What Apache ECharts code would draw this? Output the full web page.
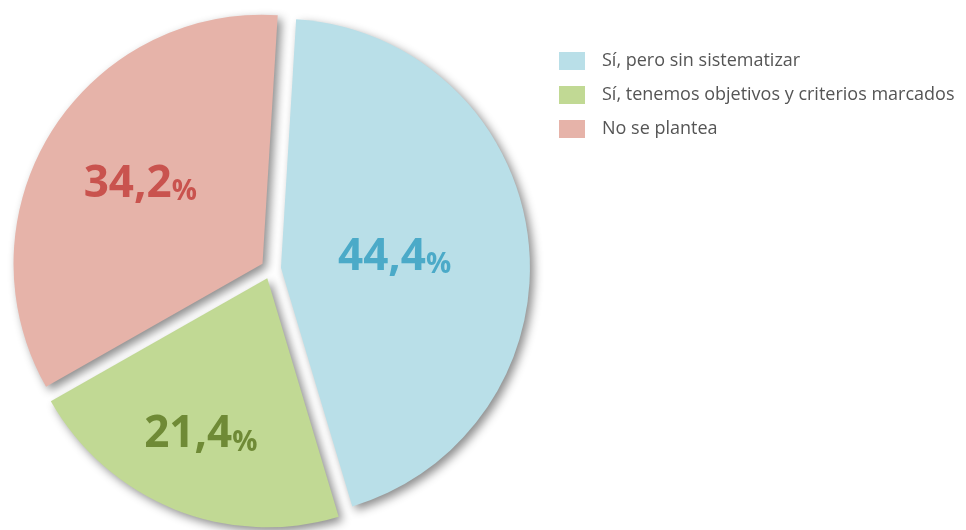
<!DOCTYPE html>
<html>
<head>
<meta charset="utf-8">
<script src="https://cdn.jsdelivr.net/npm/echarts@6/dist/echarts.min.js"></script>
<style>
html,body{margin:0;padding:0;background:#fff;}
#chart{width:966px;height:530px;}
</style>
</head>
<body>
<div id="chart"></div>
<script>
// datos
var categorias = ['Sí, pero sin sistematizar', 'Sí, tenemos objetivos y criterios marcados', 'No se plantea'];
var valores = [44.4, 21.4, 34.2];
var colores = ['#B9DFE8', '#C1D994', '#E6B3A9'];
var coloresTexto = ['#4BAAC8', '#6F8A36', '#C9534E'];
// desplazamiento de la etiqueta [dx, dy]
var desplaz = [[-13, 2], [-19, 36], [-14, -14]];

var datos = [];
for (var i = 0; i < categorias.length; i++) {
	var dx = desplaz[i][0], dy = desplaz[i][1];
	datos.push({
		name: categorias[i],
		value: valores[i],
		selected: true,
		itemStyle: {color: colores[i]},
		select: {itemStyle: {color: colores[i]}},
		label: {
			padding: [Math.max(2 * dy, 0), Math.max(-2 * dx, 0), Math.max(-2 * dy, 0), Math.max(2 * dx, 0)],
			rich: {
				n: {fontSize: 44, fontWeight: 'bold', color: coloresTexto[i], fontFamily: 'Open Sans', lineHeight: 48, verticalAlign: 'bottom'},
				p: {fontSize: 28, fontWeight: 'bold', color: coloresTexto[i], fontFamily: 'Open Sans', lineHeight: 44, verticalAlign: 'bottom'}
			}
		}
	});
}

var chart = echarts.init(document.getElementById('chart'));
var option = {
	animation: false,
	legend: {
		orient: 'vertical',
		left: 554,
		top: 47,
		icon: 'rect',
		itemWidth: 26,
		itemHeight: 18,
		itemGap: 16,
		selectedMode: false,
		data: categorias,
		textStyle: {fontSize: 18, color: '#555', fontFamily: 'Open Sans', padding: [0, 0, 0, 12]}
	},
	series: [{
		type: 'pie',
		center: [271, 269],
		radius: 249,
		startAngle: 86.5,
		selectedMode: 'multiple',
		selectedOffset: 10,
		itemStyle: {
			shadowBlur: 10,
			shadowColor: 'rgba(0,0,0,0.45)',
			shadowOffsetX: 4,
			shadowOffsetY: 4
		},
		emphasis: {disabled: true},
		label: {
			show: true,
			position: 'inside',
			formatter: function(p){
				return '{n|' + String(p.value).replace('.', ',') + '}{p|%}';
			}
		},
		labelLine: {show: false},
		data: datos
	}]
};
chart.setOption(option);
</script>
</body>
</html>
